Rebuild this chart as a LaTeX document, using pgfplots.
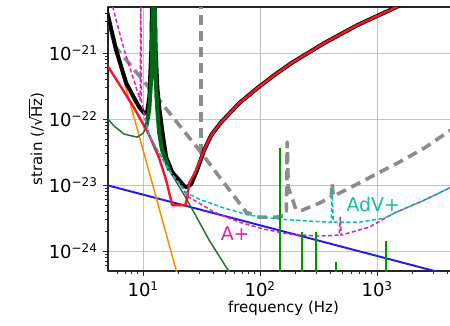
\documentclass[border=0pt]{standalone}
\usepackage{fontspec}
\setmainfont{DejaVu Sans}
\usepackage{pgfplots}
\pgfplotsset{compat=1.18}

\definecolor{cblue}{RGB}{30,30,235}
\definecolor{cred}{RGB}{245,20,40}
\definecolor{corange}{RGB}{255,140,0}
\definecolor{cdkgreen}{RGB}{35,115,55}
\definecolor{cthickgreen}{RGB}{0,105,20}
\definecolor{cline}{RGB}{0,150,0}
\definecolor{cmag}{RGB}{215,35,175}
\definecolor{ccyan}{RGB}{0,195,190}
\definecolor{cadv}{RGB}{20,190,150}
\definecolor{cgray}{RGB}{140,140,140}
\definecolor{cgrid}{RGB}{195,195,195}

\newcommand\lbl{\fontsize{12.6}{15}\selectfont}
\newcommand\tlbl{\fontsize{12}{14.4}\selectfont}

\begin{document}
\begin{tikzpicture}
\begin{axis}[
  name=ax,
  xmode=log, ymode=log,
  scale only axis,
  width=234pt, height=176pt,
  xmin=5, xmax=5000, ymin=5e-25, ymax=5e-21,
  xtick={10,100,1000},
  xticklabels={10\textsuperscript{1},10\textsuperscript{2},10\textsuperscript{3}},
  ytick={1e-24,1e-23,1e-22,1e-21},
  yticklabels={10\textsuperscript{−24},10\textsuperscript{−23},10\textsuperscript{−22},10\textsuperscript{−21}},
  minor xtick={6,7,8,9,20,30,40,50,60,70,80,90,200,300,400,500,600,700,800,900,2000,3000,4000,5000},
  minor ytick={6e-25,7e-25,8e-25,9e-25,2e-24,3e-24,4e-24,5e-24,6e-24,7e-24,8e-24,9e-24,
               2e-23,3e-23,4e-23,5e-23,6e-23,7e-23,8e-23,9e-23,
               2e-22,3e-22,4e-22,5e-22,6e-22,7e-22,8e-22,9e-22,2e-21,3e-21,4e-21},
  tick pos=left,
  tick align=outside,
  major tick length=3.3pt,
  minor tick length=2pt,
  tick style={black!85, line width=0.6pt},
  axis line style={black!85, line width=0.8pt},
  grid=major,
  major grid style={cgrid, line width=0.7pt},
  tick label style={font=\tlbl},
  label style={font=\lbl},
  xlabel={frequency (Hz)},
  ylabel={strain (/√\kern-0.4pt$\overline{\mbox{Hz}}$)},
  every axis x label/.style={at={(axis description cs:0.5,-0.142)}, anchor=center},
  every axis y label/.style={at={(axis description cs:-0.205,0.5)}, anchor=center, rotate=90},
  clip=true,
  line join=round,
]

% detector design curve (thick grey dashes)
\addplot[cgray, line width=2.4pt, dash pattern=on 6.7pt off 4pt] coordinates {
  (5.65,1.32e-21) (13.7,1.94e-22) (30.1,3.39e-23)
  (75.9,3.9e-24) (98,3.27e-24) (137,3.27e-24) (167,3.51e-24) (170,4.49e-23) (173.5,9.33e-24)
  (203,4.18e-24) (229,4.18e-24) (319,5.33e-24) (404,6.58e-24) (412,1.07e-23) (421,6.81e-24)
  (577,9.0e-24) (943,1.42e-23) (1542,2.23e-23) (2522,3.64e-23) (4121,6.58e-23) (6109,9.66e-23)
};
% its 31 Hz line
\addplot[cgray, line width=2.4pt, dash pattern=on 6.7pt off 4pt] coordinates {
  (31,3.0e-23) (31,7e-21)
};

% coating thermal term
\addplot[cblue, line width=1.3pt] coordinates {(4.5,1.04e-23) (5000,4.0e-25)};

% seismic term
\addplot[corange, line width=1pt] coordinates {(4.47,5.93e-21) (20.3,3.51e-25)};

% suspension thermal term
\addplot[cdkgreen, line width=1pt] coordinates {
  (4.7,1.1e-22) (4.92,1.04e-22) (5.65,7.83e-23) (6.89,5.93e-23) (8.89,5.34e-23) (10,6.13e-23)
  (10.8,8.11e-23) (11.5,1.63e-22) (11.94,1e-21) (12.2,6e-21) (12.5,6e-21) (12.8,3.9e-22)
  (13.2,1.37e-22) (13.7,6.13e-23) (14.5,3.39e-23) (16.7,1.69e-23) (23.8,5.93e-24)
  (36.6,1.47e-24) (56.5,4.33e-25)
};

% total noise
\addplot[black, line width=2.7pt] coordinates {
  (4.73,6.35e-21) (4.92,4.18e-21) (5.87,1.11e-21) (7.16,3.51e-22) (8.38,2.08e-22) (9.25,1.52e-22)
  (10.2,1.23e-22) (10.8,1.28e-22) (11.3,2.2e-22) (11.75,1.2e-21) (11.9,6.35e-21)
  (12.55,6.35e-21) (12.75,1.2e-21) (13.2,3.0e-22) (13.7,1.5e-22) (14.5,6.81e-23) (15.7,2.65e-23)
  (17.7,1.57e-23) (20.3,1.19e-23) (22.4,9.66e-24) (23.8,9.33e-24) (25.7,1.04e-23)
  (28.4,1.57e-23) (33.2,3.39e-23) (38.1,5.72e-23) (46.4,9.01e-23) (66.2,1.75e-22)
  (94.3,2.95e-22) (131.8,4.64e-22) (184.2,7.05e-22) (352.5,1.42e-21) (674.6,2.65e-21)
  (1396,4.81e-21) (2287,7.57e-21)
};

% quantum + residual gas
\addplot[cred, line width=1.6pt] coordinates {
  (4.7,7.2e-22) (4.92,6.58e-22) (6.24,3.39e-22) (8.38,1.47e-22) (11.25,5.72e-23)
  (13.7,2.56e-23) (15.7,1.19e-23) (17.7,4.97e-24) (22.9,4.97e-24) (23.8,6.58e-24)
  (24.7,1.07e-23) (28.4,1.69e-23) (33.2,3.39e-23) (38.1,5.72e-23) (46.4,9.01e-23)
  (66.2,1.75e-22) (94.3,2.95e-22) (131.8,4.64e-22) (184.2,7.05e-22) (352.5,1.42e-21)
  (674.6,2.65e-21) (1396,4.81e-21) (2287,7.57e-21)
};

% vertical suspension mode
\addplot[cthickgreen, line width=2.7pt] coordinates {
  (10.6,7.57e-23) (11.25,1.37e-22) (11.75,4.64e-22) (12.1,6.35e-21) (12.5,6.35e-21)
  (12.8,3.9e-22) (13.2,1.37e-22) (13.7,6.13e-23) (14.5,3.39e-23) (16.7,1.69e-23)
};

% A+
\addplot[cmag, line width=1pt, dash pattern=on 2.7pt off 1.6pt] coordinates {
  (5.32,6.35e-21) (5.87,3.16e-21) (6.89,1.11e-21) (8.06,4.64e-22) (9.42,1.94e-22)
  (9.54,6.4e-21) (9.66,1.9e-22) (10.2,1.15e-22) (11.25,5.72e-23) (13.2,3.39e-23)
  (15.7,2.01e-23) (18.4,1.32e-23) (21.5,9.33e-24) (23.8,6.81e-24) (30.1,5.33e-24)
  (40.5,3.9e-24) (66.2,2.75e-24) (108,2.15e-24) (177,1.81e-24) (319,1.69e-24)
  (473,1.75e-24) (483,3.27e-24) (492,1.75e-24) (855,2.31e-24) (1396,3.77e-24)
  (2522,5.93e-24) (4121,9.0e-24) (6109,1.28e-23)
};

% AdV+
\addplot[ccyan, line width=1pt, dash pattern=on 2.7pt off 1.6pt, dash phase=2pt] coordinates {
  (10.2,1.15e-22) (11.25,5.72e-23) (13.2,3.39e-23) (15.7,2.01e-23) (18.4,1.32e-23)
  (21.5,9.33e-24) (23.8,7.57e-24) (30.1,6.13e-24) (49.2,4.49e-24) (80.5,3.51e-24)
  (145,3.06e-24) (262,2.85e-24) (404,2.75e-24) (412,9.0e-24) (421,2.75e-24)
  (702,2.75e-24) (1148,3.16e-24) (1396,3.77e-24) (2522,5.93e-24) (4121,9.0e-24)
  (6109,1.28e-23)
};

% narrow spectral lines
\addplot[cline, line width=1.3pt] coordinates {(148,4e-25) (148,3.64e-23)};
\addplot[cline, line width=1.3pt] coordinates {(229,4e-25) (229,1.94e-24)};
\addplot[cline, line width=1.3pt] coordinates {(301,4e-25) (301,1.94e-24)};
\addplot[cline, line width=1.3pt] coordinates {(447,4e-25) (447,6.81e-25)};
\addplot[cline, line width=1.3pt] coordinates {(1194,4e-25) (1194,1.42e-24)};

\node[text=cadv, font=\lbl] at (axis cs:925,5.15e-24) {AdV+};
\node[text=cmag, font=\lbl] at (axis cs:61.1,1.87e-24) {A+};
\end{axis}
\pgfresetboundingbox
\path[use as bounding box] ([shift={(-72pt,-36pt)}]ax.south west) rectangle ([shift={(228pt,4.67pt)}]ax.north west);
\end{tikzpicture}
\end{document}
